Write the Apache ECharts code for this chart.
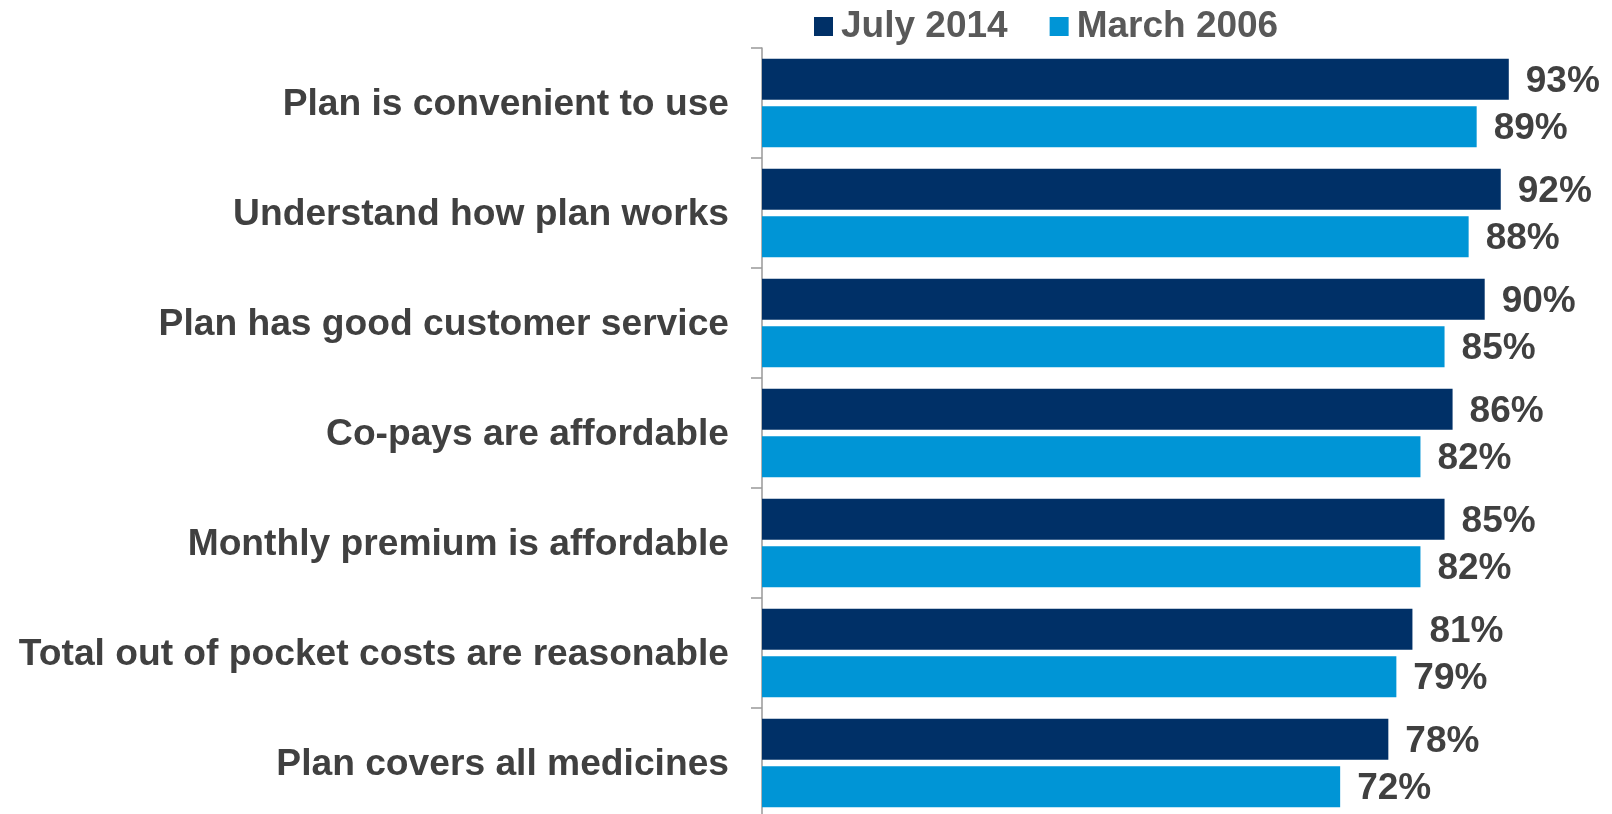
<!DOCTYPE html>
<html>
<head>
<meta charset="utf-8">
<title>Plan satisfaction</title>
<script src="https://cdn.jsdelivr.net/npm/echarts@6/dist/echarts.min.js"></script>
<style>
  html, body { margin: 0; padding: 0; background: #ffffff; }
  #chart { width: 1612px; height: 814px; }
</style>
</head>
<body>
<div id="chart"></div>
<script>
// Survey statements, listed top to bottom
const categories = [
  'Plan is convenient to use',
  'Understand how plan works',
  'Plan has good customer service',
  'Co-pays are affordable',
  'Monthly premium is affordable',
  'Total out of pocket costs are reasonable',
  'Plan covers all medicines'
];

// Share agreeing (%) in each survey wave
const july2014 = [93, 92, 90, 86, 85, 81, 78];
const march2006 = [89, 88, 85, 82, 82, 79, 72];

const seriesNames = ['July 2014', 'March 2006'];

const FONT = '"Liberation Sans", Arial, sans-serif';
const TEXT = '#404040';

const chart = echarts.init(document.getElementById('chart'), null, { renderer: 'canvas' });

const labelStyle = {
  show: true,
  position: 'right',
  distance: 17,
  offset: [0, 2.5],
  formatter: '{c}%',
  color: TEXT,
  fontFamily: FONT,
  fontWeight: 'bold',
  fontSize: 37
};

chart.setOption({
  animation: false,
  backgroundColor: '#ffffff',
  legend: {
    data: seriesNames,
    left: 809,
    top: 3,
    icon: 'rect',
    itemWidth: 19,
    itemHeight: 19,
    itemGap: 42,
    textStyle: {
      color: '#595959',
      fontFamily: FONT,
      fontWeight: 'bold',
      fontSize: 37,
      padding: [0, 0, 0, 3]
    }
  },
  grid: {
    left: 762,
    right: 47,
    top: 48,
    height: 770,
    outerBoundsMode: 'none'
  },
  xAxis: {
    type: 'value',
    min: 0,
    max: 100,
    show: false
  },
  yAxis: {
    type: 'category',
    data: categories,
    inverse: true,
    axisLine: { show: true, lineStyle: { color: '#999999', width: 1.5 } },
    axisTick: { show: true, length: 11, lineStyle: { color: '#999999', width: 1.5 } },
    axisLabel: {
      margin: 33,
      formatter: (v) => '{t|' + v + '}',
      rich: {
        t: {
          color: TEXT,
          fontFamily: FONT,
          fontWeight: 'bold',
          fontSize: 37.2,
          padding: [4, 0, 0, 0]
        }
      }
    },
    splitLine: { show: false }
  },
  series: [
    {
      name: seriesNames[0],
      type: 'bar',
      data: july2014,
      barWidth: 41,
      barGap: '16%',
      itemStyle: { color: '#003067' },
      label: labelStyle
    },
    {
      name: seriesNames[1],
      type: 'bar',
      data: march2006,
      barWidth: 41,
      barGap: '16%',
      itemStyle: { color: '#0095d6' },
      label: labelStyle
    }
  ]
});
</script>
</body>
</html>
